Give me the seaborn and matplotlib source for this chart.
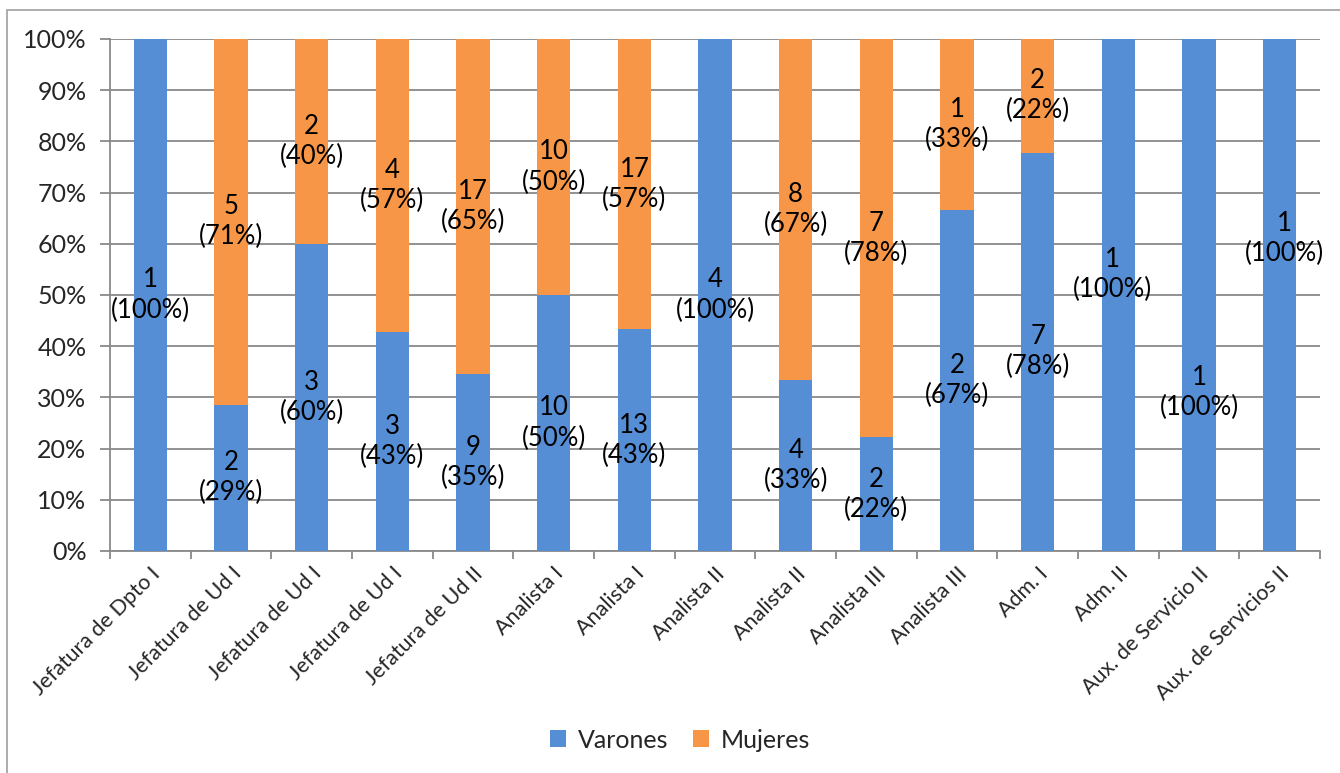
import matplotlib
matplotlib.use("Agg")
import matplotlib.pyplot as plt
from matplotlib.patches import Rectangle, Patch
from matplotlib.ticker import PercentFormatter, FixedLocator
import numpy as np
import pandas as pd
import seaborn as sns

# Puestos (cada barra es un puesto/nivel; hay nombres repetidos)
puestos = [
    "Jefatura de Dpto I", "Jefatura de Ud I", "Jefatura de Ud I", "Jefatura de Ud I",
    "Jefatura de Ud II", "Analista I", "Analista I", "Analista II", "Analista II",
    "Analista III", "Analista III", "Adm. I", "Adm. II", "Aux. de Servicio II",
    "Aux. de Servicios II",
]
varones = [1, 2, 3, 3, 9, 10, 13, 4, 4, 2, 2, 7, 1, 1, 1]
mujeres = [0, 5, 2, 4, 17, 10, 17, 0, 8, 7, 1, 2, 0, 0, 0]

# Etiquetas desplazadas a mano: índice -> (desplazamiento x, altura y en %)
etiquetas_movidas = {12: (-0.07, 54.0), 13: (0.0, 31.0), 14: (0.06, 61.0)}

AZUL = "#558ED5"
NARANJA = "#F79646"
GRIS = "#898989"

sns.set_theme(style="white")
plt.rcParams["font.family"] = ["Lato", "DejaVu Sans"]

total = np.array(varones) + np.array(mujeres)
pct_v = 100 * np.array(varones) / total
ids = [str(i) for i in range(len(puestos))]
df = pd.DataFrame({"id": ids, "varones": pct_v, "total": 100.0 * np.ones(len(ids))})

fig = plt.figure(figsize=(13.4, 7.73), dpi=100)
ax = fig.add_axes([110 / 1340, 1 - 551 / 773, 1210 / 1340, 512 / 773])

sns.barplot(data=df, x="id", y="total", order=ids, color=NARANJA, width=0.41,
            saturation=1, linewidth=0, ax=ax, zorder=3)
sns.barplot(data=df, x="id", y="varones", order=ids, color=AZUL, width=0.41,
            saturation=1, linewidth=0, ax=ax, zorder=3)

ax.set_xlim(-0.5, len(ids) - 0.5)
ax.set_ylim(0, 100)
ax.set_yticks(np.arange(0, 101, 10))
ax.yaxis.set_major_formatter(PercentFormatter(decimals=0))
ax.grid(axis="y", color=GRIS, linewidth=1.3, zorder=0)
ax.grid(axis="x", visible=False)
ax.set_axisbelow(True)
ax.set_xlabel("")
ax.set_ylabel("")

for side in ["top", "right"]:
    ax.spines[side].set_visible(False)
for side in ["left", "bottom"]:
    ax.spines[side].set_color(GRIS)
    ax.spines[side].set_linewidth(1.3)

ax.set_xticks(range(len(ids)))
ax.set_xticklabels(puestos, rotation=45, ha="right", rotation_mode="anchor",
                   fontsize=15.5)
ax.xaxis.set_minor_locator(FixedLocator(np.arange(-0.5, len(ids), 1.0)))
ax.tick_params(axis="x", which="major", length=0, pad=9)
ax.tick_params(axis="x", which="minor", length=6, width=1.3, color=GRIS, bottom=True)
ax.tick_params(axis="y", length=7, width=1.3, color=GRIS, left=True, labelsize=18, pad=10)

# Etiquetas de datos: número y porcentaje en el centro de cada tramo
for i in range(len(ids)):
    segs = []
    if varones[i] > 0:
        segs.append((varones[i], pct_v[i], pct_v[i] / 2))
    if mujeres[i] > 0:
        pm = 100 - pct_v[i]
        segs.append((mujeres[i], pm, pct_v[i] + pm / 2))
    for n, p, yc in segs:
        x = i
        if i in etiquetas_movidas:
            dx, yc = etiquetas_movidas[i]
            x = i + dx
        ax.text(x, yc, f"{n}\n({p:.0f}%)", ha="center", va="center",
                fontsize=18.5, linespacing=1.25, color="black", zorder=5)

# Leyenda
handles = [Patch(facecolor=AZUL, edgecolor="none"), Patch(facecolor=NARANJA, edgecolor="none")]
fig.legend(handles, ["Varones", "Mujeres"], loc="center", ncol=2, frameon=False,
           bbox_to_anchor=(680 / 1340, 1 - 740 / 773), fontsize=18,
           handlelength=0.65, handleheight=0.65, handletextpad=0.45, columnspacing=1.0)

# Borde del área del gráfico
fig.patches.append(Rectangle((7 / 1340, -0.2), 1.2, 1.2 - 10 / 773,
                             transform=fig.transFigure, fill=False,
                             edgecolor="#A6A6A6", linewidth=1.3))

fig.savefig("out.png", dpi=100)
